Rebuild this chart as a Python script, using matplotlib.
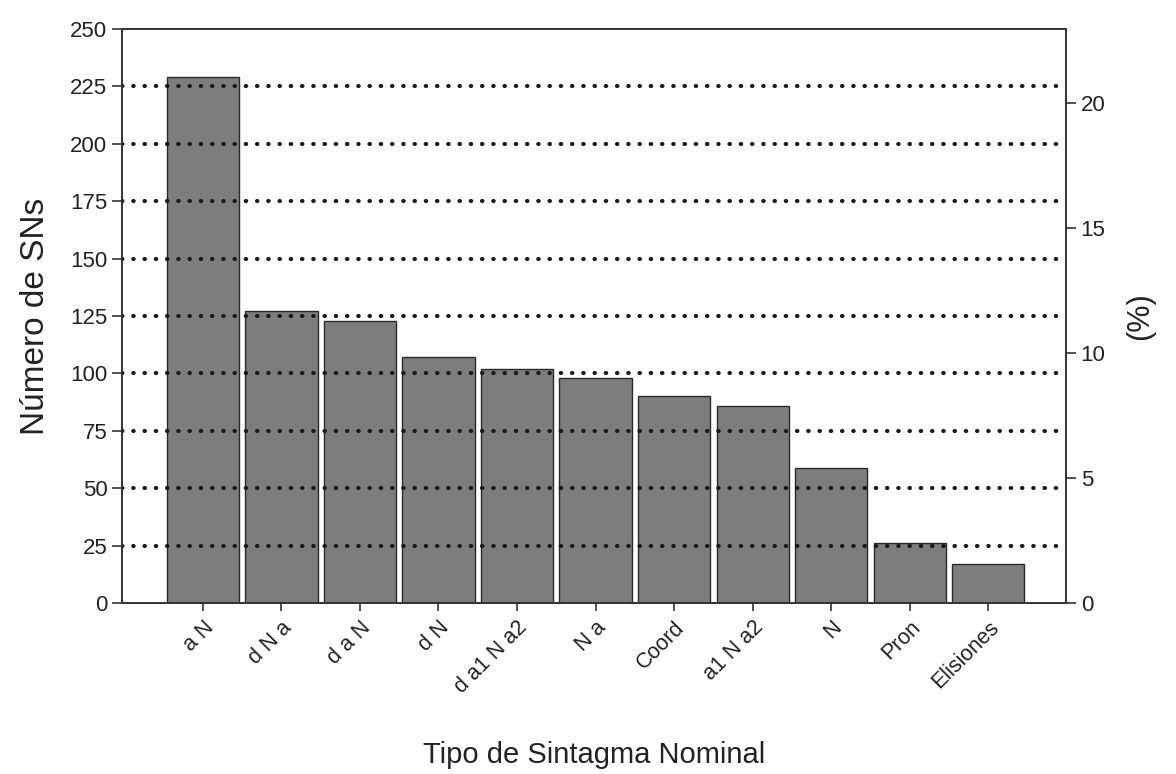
import matplotlib

matplotlib.use("Agg")
import matplotlib.pyplot as plt
import numpy as np

# Tipos de sintagma nominal y numero de SNs
CATEGORIES = ["a N", "d N a", "d a N", "d N", "d a1 N a2", "N a",
              "Coord", "a1 N a2", "N", "Pron", "Elisiones"]
COUNTS = [229, 127, 123, 107, 102, 98, 90, 86, 59, 26, 17]
TOTAL_SN = 1089  # total used for the (%) axis
LEFT_TICKS = list(range(0, 251, 25))
RIGHT_TICKS = [0, 5, 10, 15, 20]

plt.rcParams["font.family"] = ["Liberation Sans", "DejaVu Sans"]

fig = plt.figure(figsize=(11.76, 7.74), dpi=100)
ax = fig.add_axes([0.1037, 0.2209, 0.8028, 0.7416])

x = np.arange(len(CATEGORIES))
ax.bar(x, COUNTS, width=0.92, color="#7d7d7d", edgecolor="#2a2a2a",
       linewidth=1.0, zorder=2)

ax.set_xlim(-1.03, 10.99)
ax.set_ylim(0, 250)
ax.set_yticks(LEFT_TICKS)
ax.set_xticks(x)
ax.set_xticklabels(CATEGORIES, rotation=45, ha="right",
                   rotation_mode="anchor", fontsize=15.5)

# dotted reference lines at the inner ticks only
for yv in LEFT_TICKS[1:-1]:
    ax.axhline(yv, color="#1a1a1a", linestyle=(0, (0.1, 2.6)),
               linewidth=3.0, dash_capstyle="round", zorder=3)

for s in ax.spines.values():
    s.set_linewidth(1.2)
    s.set_color("#333333")

ax.tick_params(axis="y", direction="out", length=7, width=1.2,
               labelsize=16, colors="#333333", labelcolor="#222222")
ax.tick_params(axis="x", direction="out", length=6, width=1.2,
               colors="#333333", labelcolor="#222222", pad=4)

ax.set_ylabel("Número de SNs", fontsize=24, color="#222222", labelpad=14)
ax.set_xlabel("Tipo de Sintagma Nominal", fontsize=21, color="#222222",
              labelpad=31)

ax2 = ax.twinx()
ax2.set_ylim(0, 250 / TOTAL_SN * 100)
ax2.set_yticks(RIGHT_TICKS)
ax2.tick_params(axis="y", direction="out", length=7, width=1.2,
                labelsize=16, colors="#333333", labelcolor="#222222")
for s in ax2.spines.values():
    s.set_linewidth(1.2)
    s.set_color("#333333")
ax2.set_ylabel("(%)", fontsize=22, color="#222222", labelpad=14)

fig.savefig("out.png", dpi=100)
